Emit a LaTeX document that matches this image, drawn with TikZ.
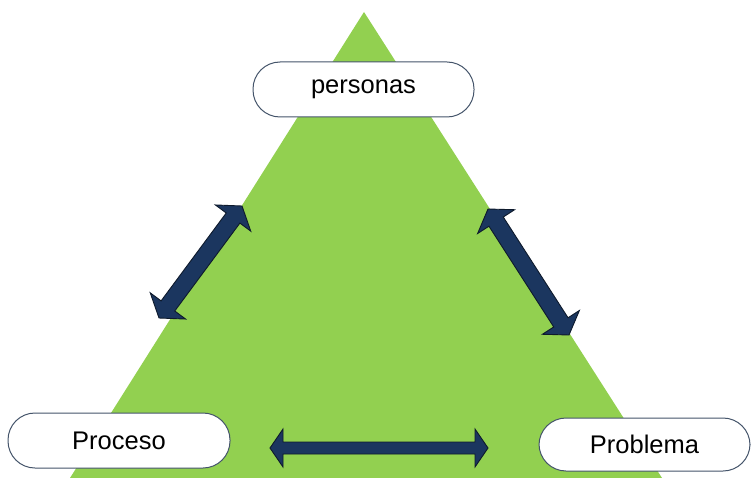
\documentclass[tikz,border=0pt]{standalone}
\usepackage{fontspec}
\setmainfont{Liberation Sans}
\usetikzlibrary{calc}
\definecolor{tgreen}{HTML}{92D050}
\definecolor{navy}{HTML}{1B365F}
\definecolor{navyedge}{HTML}{0E1A2C}
\definecolor{boxedge}{HTML}{44546A}
\tikzset{
  labelbox/.style={draw=boxedge, line width=1pt, fill=white, rounded corners=27pt,
    inner sep=0pt, font=\fontsize{25.5}{30}\selectfont},
  blockarrow/.style={fill=navy, draw=navyedge, line width=0.9pt, line join=miter}
}
% #1 from, #2 to, #3 head length, #4 head half-width, #5 shaft half-width
\newcommand\dblarrow[5]{%
  \path[blockarrow] (#1)
    -- ($(#1)!#3!(#2)!#4!90:(#2)$) -- ($(#1)!#3!(#2)!#5!90:(#2)$)
    -- ($(#2)!#3!(#1)!#5!-90:(#1)$) -- ($(#2)!#3!(#1)!#4!-90:(#1)$)
    -- (#2)
    -- ($(#2)!#3!(#1)!#4!90:(#1)$) -- ($(#2)!#3!(#1)!#5!90:(#1)$)
    -- ($(#1)!#3!(#2)!#5!-90:(#2)$) -- ($(#1)!#3!(#2)!#4!-90:(#2)$)
    -- cycle;}
\begin{document}
\begin{tikzpicture}[x=1pt,y=-1pt]
\useasboundingbox (0,0) rectangle (751,478);
% triangle
\fill[tgreen] (364,12) -- (662,478) -- (70,478) -- cycle;
% labels
\node[labelbox, minimum width=221pt, minimum height=55pt] (personas) at (363.5,89.5) {personas};
\node[labelbox, minimum width=222pt, minimum height=55pt] (proceso) at (119,440.5) {Proceso};
\node[labelbox, minimum width=211pt, minimum height=53pt] (problema) at (644.5,444.5) {Problema};
% arrow end points
\coordinate (la) at (159,318);
\coordinate (lb) at (242,206);
\coordinate (ra) at (488,209);
\coordinate (rb) at (569,335);
\coordinate (ba) at (270,448);
\coordinate (bb) at (488,448);
\dblarrow{la}{lb}{15pt}{22pt}{8.5pt}
\dblarrow{ra}{rb}{15pt}{22pt}{8.5pt}
\dblarrow{ba}{bb}{13pt}{19pt}{6pt}
\end{tikzpicture}
\end{document}
